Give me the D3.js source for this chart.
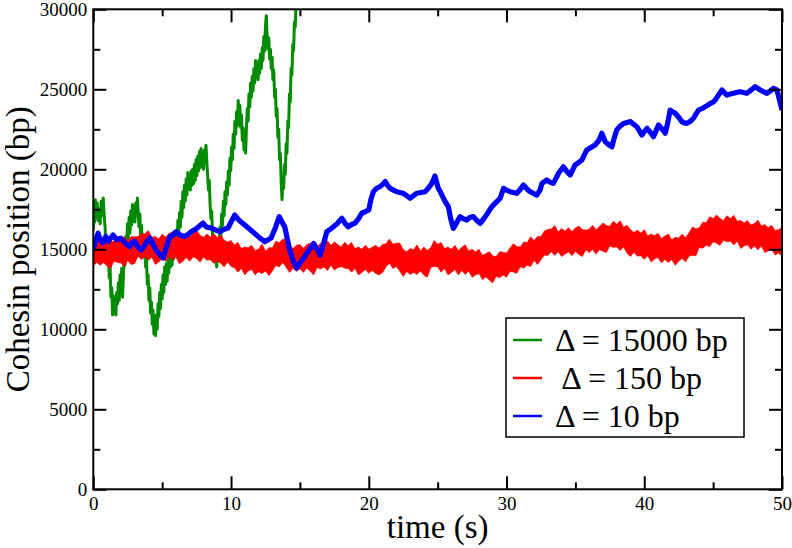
<!DOCTYPE html>
<html>
<head>
<meta charset="utf-8">
<script src="https://cdn.jsdelivr.net/npm/d3@7"></script>
<style>
  body { margin: 0; background: #fff; }
</style>
</head>
<body>
<script>
// axis ticks
const xMajor = [0, 10, 20, 30, 40, 50];
const xMinor = [5, 15, 25, 35, 45];
const yMajor = [0, 5000, 10000, 15000, 20000, 25000, 30000];
const yMinor = [2500, 7500, 12500, 17500, 22500, 27500];

const legendLabels = ["\u0394 = 15000 bp", " \u0394 = 150 bp", "\u0394 = 10 bp"];
const colors = ["#008b00", "#ff0000", "#0000ff"];
const FONT = "'Liberation Serif', 'Times New Roman', serif";

// Δ = 15000 bp, [time (s), position (bp)]
const green = [
[0.00,16200],[0.05,17700],[0.10,16700],[0.15,18100],[0.22,17000],[0.28,17900],[0.35,16800],[0.42,17500],[0.50,16600],[0.57,18000],[0.64,17100],[0.72,18200],[0.80,17000],[0.86,16300],[0.92,15000],[0.98,15700],[1.04,14100],[1.10,14700],[1.16,13200],[1.22,13900],[1.28,12000],[1.34,12600],[1.40,10900],[1.46,12100],[1.52,11000],[1.58,11700],[1.64,10900],[1.70,12300],[1.76,11600],[1.82,12900],[1.88,11800],[1.94,13400],[2.00,12300],[2.06,13800],[2.12,12000],[2.18,13200],[2.24,14600],[2.30,14000],[2.36,15800],[2.42,15000],[2.48,16600],[2.54,15600],[2.60,17000],[2.66,16000],[2.72,17400],[2.78,16500],[2.84,17800],[2.90,16900],[2.96,17600],[3.02,16700],[3.08,17900],[3.14,17100],[3.20,18200],[3.26,17300],[3.32,16400],[3.38,17200],[3.44,15800],[3.50,16500],[3.56,15000],[3.62,15700],[3.68,14500],[3.74,15100],[3.80,13900],[3.86,14500],[3.92,12800],[3.98,13400],[4.04,11800],[4.10,12600],[4.16,11000],[4.22,11700],[4.28,10300],[4.34,11200],[4.40,9700],[4.46,10500],[4.52,9600],[4.58,10900],[4.64,10000],[4.70,11600],[4.76,10800],[4.82,12300],[4.88,11300],[4.94,12800],[5.00,11900],[5.06,13400],[5.12,12300],[5.18,13900],[5.24,12800],[5.30,14100],[5.36,13000],[5.42,14300],[5.48,13500],[5.54,14800],[5.60,13900],[5.66,15100],[5.72,14000],[5.78,15300],[5.84,14400],[5.90,15600],[5.96,14700],[6.02,16100],[6.08,15200],[6.14,16800],[6.20,15900],[6.26,17300],[6.32,16400],[6.38,18000],[6.44,17000],[6.50,18600],[6.56,17600],[6.62,19000],[6.68,18000],[6.74,19400],[6.80,18400],[6.86,19800],[6.92,18800],[6.98,19600],[7.04,18700],[7.10,19900],[7.16,19000],[7.22,20000],[7.28,19100],[7.34,20300],[7.40,19300],[7.46,20600],[7.52,19600],[7.58,20800],[7.64,19900],[7.70,21100],[7.76,20100],[7.82,21300],[7.88,20300],[7.94,21000],[8.00,20000],[8.06,21200],[8.12,20400],[8.18,21500],[8.24,20500],[8.30,19600],[8.36,18700],[8.42,19300],[8.48,17800],[8.54,16900],[8.60,17400],[8.66,15800],[8.72,15100],[8.78,15700],[8.84,14300],[8.90,14900],[8.96,13900],[9.02,14800],[9.08,15600],[9.14,14900],[9.20,16400],[9.26,15700],[9.32,17200],[9.38,16500],[9.44,18000],[9.50,17100],[9.56,18600],[9.62,17800],[9.68,19200],[9.74,18400],[9.80,19900],[9.86,19000],[9.92,20700],[9.98,19900],[10.04,21400],[10.10,20600],[10.16,22200],[10.22,21300],[10.28,23000],[10.34,22200],[10.40,23600],[10.46,22700],[10.52,24300],[10.58,23300],[10.64,24000],[10.70,22600],[10.76,23400],[10.82,21800],[10.88,22600],[10.94,21200],[11.00,22300],[11.06,21000],[11.12,22700],[11.18,23800],[11.24,23000],[11.30,24700],[11.36,23900],[11.42,25400],[11.48,24500],[11.54,25800],[11.60,24900],[11.66,26300],[11.72,25400],[11.78,26800],[11.84,25800],[11.90,26500],[11.96,25600],[12.02,26800],[12.08,26000],[12.14,27200],[12.20,26300],[12.26,27600],[12.32,26800],[12.38,28300],[12.44,27400],[12.50,29000],[12.56,29600],[12.62,28300],[12.68,27500],[12.74,28200],[12.80,26900],[12.86,27500],[12.92,26300],[12.98,27000],[13.04,25600],[13.10,26200],[13.16,24500],[13.22,25000],[13.28,23300],[13.34,23800],[13.40,22000],[13.46,22500],[13.52,20600],[13.58,21000],[13.64,19200],[13.70,18100],[13.76,19400],[13.82,18800],[13.88,20300],[13.94,19700],[14.00,21600],[14.06,21000],[14.12,23000],[14.18,22600],[14.24,24700],[14.30,24200],[14.36,26300],[14.42,25900],[14.48,27800],[14.54,27400],[14.60,29200],[14.66,28900],[14.72,30300],[14.80,31000]
];

// Δ = 150 bp, noisy band: upper and lower edge every 0.25 s
const redTime = d3.range(201).map(i => i * 0.25);
const redHigh = [
15400,15700,15520,15630,15700,15480,15500,15800,15570,15780,15550,15800,
15780,15800,16000,15970,16180,15750,15800,15650,15950,15770,15980,16100,
15750,15850,15700,16000,15770,15980,16200,15880,15750,15950,15770,15980,
15730,15900,15580,15450,15550,15270,15430,15050,15150,15100,15250,14920,
15020,15330,14900,15100,15100,15500,15420,15630,15650,15230,15050,15250,
15300,15070,15280,15400,15080,15100,15400,15320,15530,15250,15450,15300,
15150,15450,15220,15430,15050,15150,15000,15250,15020,15130,15250,15080,
15300,15350,15650,15320,15380,15400,14980,14850,15050,14970,15280,14900,
15150,14930,15100,15550,15320,15430,15050,15150,15000,15250,14920,15130,
15280,14900,15000,14850,15000,14620,14730,14850,14580,14550,14850,14820,
14770,15080,15350,15180,15150,15450,15420,15780,15550,15800,15800,16150,
16250,16270,16480,16100,16300,16150,16350,16120,16330,16450,16230,16200,
16250,16500,16220,16430,16650,16480,16450,16750,16570,16780,16400,16500,
16230,16050,16200,16020,16230,15850,15950,15850,16000,15670,15830,15950,
15600,15750,15700,15950,15720,16030,16400,16280,16350,16700,16670,17030,
16930,17150,16930,16800,17100,16920,17130,16750,16800,16650,16800,16520,
16620,16830,16450,16550,16350,16500,16170,16230,16350
];
const redLow = [
13950,14180,14000,14170,13930,13800,14260,14170,14150,13920,14300,14050,
14100,14560,14370,14550,14320,14500,14050,14200,14430,14250,14520,14330,
14500,14100,14250,14480,14250,14520,14430,14200,14510,14320,14350,14120,
14270,14130,13900,14210,13920,13850,13570,13800,13400,13650,13730,13400,
13600,13470,13650,13350,13650,13980,13900,14170,13880,13550,13810,13620,
13780,13550,13820,13630,13400,13860,13770,13900,13670,14000,13700,13850,
13910,13820,13800,13570,13800,13400,13550,13730,13500,13670,13480,13400,
13550,13900,14130,13800,13920,13630,13300,13610,13420,13550,13420,13650,
13380,13250,13860,13920,13900,13570,13800,13400,13550,13730,13400,13670,
13420,13650,13250,13400,13480,13100,13270,13080,12900,13310,13220,13400,
13250,13620,13580,13500,13910,13820,14000,13920,14300,14050,14350,14630,
14620,14850,14620,14850,14550,14700,14830,14600,14870,14680,14550,14960,
14800,14980,14700,14970,14880,14800,15210,15120,15150,14920,15150,14750,
14550,14810,14570,14600,14370,14600,14200,14400,14480,14150,14370,14180,
14350,14000,14250,14430,14200,14570,14630,14600,15110,15070,15250,15170,
15470,15380,15250,15560,15470,15500,15270,15500,15050,15200,15280,15000,
15200,14970,15200,14800,14900,14980,14650,14770,14580
];

// Δ = 10 bp
const blue = [
[0.0,14950],[0.15,15500],[0.35,16000],[0.5,15600],[0.7,15400],[0.9,15800],[1.1,15500],[1.43,15900],[1.7,15600],[2.0,15700],[2.3,15400],[2.64,15160],[2.8,15400],[3.0,15500],[3.2,15200],[3.46,14950],[3.7,15200],[3.9,15500],[4.1,15700],[4.35,15300],[4.56,14950],[4.8,14700],[5.06,14450],[5.3,15100],[5.55,15790],[5.8,15900],[6.0,16100],[6.3,15900],[6.63,15790],[6.9,15950],[7.1,16100],[7.5,16300],[7.97,16640],[8.2,16400],[8.55,16330],[8.9,16200],[9.18,16100],[9.5,16250],[9.78,16330],[10.0,16700],[10.27,17140],[10.6,16800],[11.0,16520],[11.3,16300],[11.7,16000],[12.1,15700],[12.45,15480],[12.7,15600],[12.9,15700],[13.2,16300],[13.5,17040],[13.7,16700],[13.9,16400],[14.1,15600],[14.26,14950],[14.5,14300],[14.75,13830],[15.0,14140],[15.35,14540],[15.5,14770],[15.8,15100],[16.0,15370],[16.25,15000],[16.46,14640],[16.7,15300],[16.95,16100],[17.2,16250],[17.43,16410],[17.7,16600],[18.04,16940],[18.3,16600],[18.5,16410],[18.75,16550],[19.0,16640],[19.25,16900],[19.5,17270],[19.75,17350],[20.0,17460],[20.15,18100],[20.33,18600],[20.55,18800],[20.8,18910],[21.0,19050],[21.2,19230],[21.35,19000],[21.55,18810],[21.8,18700],[22.03,18600],[22.25,18550],[22.5,18500],[22.75,18350],[23.0,18190],[23.25,18350],[23.48,18500],[23.8,18550],[24.09,18600],[24.35,18850],[24.58,19120],[24.8,19580],[25.05,18810],[25.25,18500],[25.42,18190],[25.6,17900],[25.78,17660],[25.95,16900],[26.14,16310],[26.4,16700],[26.63,17040],[26.9,16900],[27.12,16830],[27.35,17000],[27.6,17040],[27.85,16800],[28.08,16620],[28.25,16800],[28.45,17040],[28.7,17350],[28.93,17660],[29.2,17900],[29.54,18190],[29.78,18810],[30.0,18700],[30.26,18600],[30.5,18550],[30.75,18500],[31.0,18750],[31.23,19020],[31.45,18800],[31.71,18600],[31.95,18500],[32.2,18390],[32.44,18710],[32.57,19120],[32.93,19330],[33.15,19200],[33.4,19120],[33.6,19450],[33.77,19750],[34.13,20160],[34.35,19900],[34.62,19640],[34.8,19950],[34.98,20270],[35.2,20400],[35.47,20580],[35.65,20900],[35.83,21210],[36.1,21350],[36.43,21520],[36.7,21800],[36.92,22250],[37.16,21730],[37.4,21550],[37.65,21410],[37.8,21900],[38.0,22460],[38.25,22700],[38.5,22870],[38.75,22930],[39.0,22980],[39.25,22800],[39.46,22660],[39.65,22400],[39.83,22140],[40.0,22350],[40.2,22560],[40.45,22300],[40.67,22040],[40.85,22400],[41.03,22770],[41.3,22500],[41.52,22250],[41.7,22900],[41.88,23700],[42.05,23600],[42.25,23500],[42.5,23250],[42.73,22980],[42.9,22900],[43.1,22870],[43.35,23000],[43.57,23190],[43.75,23450],[43.94,23700],[44.2,23800],[44.42,23910],[44.6,24000],[44.79,24120],[45.0,24200],[45.15,24330],[45.4,24650],[45.64,24960],[45.8,24800],[46.0,24640],[46.25,24700],[46.48,24750],[46.7,24800],[46.96,24850],[47.2,24800],[47.45,24750],[47.75,24950],[48.05,25160],[48.25,25050],[48.42,24960],[48.65,24850],[48.9,24750],[49.15,24900],[49.38,25060],[49.63,24960],[49.8,24400],[50.0,23700]
];

const W = 792, H = 548;
const margin = { top: 9.3, right: 10, bottom: 58.7, left: 93.3 };
const width = W - margin.left - margin.right,
      height = H - margin.top - margin.bottom;

const svg = d3.select("body").append("svg")
    .attr("width", W)
    .attr("height", H);

const g = svg.append("g")
    .attr("transform", `translate(${margin.left},${margin.top})`);

const x = d3.scaleLinear().domain([0, 50]).range([0, width]);
const y = d3.scaleLinear().domain([0, 30000]).range([height, 0]);

g.append("clipPath").attr("id", "plotclip")
  .append("rect").attr("width", width).attr("height", height);

const plot = g.append("g").attr("clip-path", "url(#plotclip)");

// green trace
plot.append("path")
    .datum(green)
    .attr("fill", "none")
    .attr("stroke", colors[0])
    .attr("stroke-width", 3)
    .attr("stroke-linejoin", "round")
    .attr("d", d3.line().x(d => x(d[0])).y(d => y(d[1])));

// red band
plot.append("path")
    .datum(redTime.map((t, i) => [t, redLow[i], redHigh[i]]))
    .attr("fill", colors[1])
    .attr("stroke", colors[1])
    .attr("stroke-width", 0.6)
    .attr("d", d3.area().x(d => x(d[0])).y0(d => y(d[1])).y1(d => y(d[2])));

// blue trace
plot.append("path")
    .datum(blue)
    .attr("fill", "none")
    .attr("stroke", colors[2])
    .attr("stroke-width", 5.2)
    .attr("stroke-linejoin", "round")
    .attr("d", d3.line().x(d => x(d[0])).y(d => y(d[1])));

// serif text everywhere
function serif(sel, size) {
  sel.style("font-family", FONT, "important")
     .style("font-size", size + "px", "important")
     .style("fill", "#000", "important");
}

// axes, ticks pointing inward on all four sides
function styleAxis(sel) {
  sel.attr("font-family", null).attr("font-size", null);
  sel.select(".domain").remove();
  sel.selectAll(".tick line").attr("stroke", "#000").attr("stroke-width", 2);
  sel.selectAll(".tick text").call(serif, 19);
}

g.append("g").attr("transform", `translate(0,${height})`)
  .call(d3.axisBottom(x).tickValues(xMajor).tickSize(-13).tickPadding(7).tickFormat(d3.format("d")))
  .call(styleAxis);
g.append("g").attr("transform", `translate(0,${height})`)
  .call(d3.axisBottom(x).tickValues(xMinor).tickSize(-7).tickFormat(""))
  .call(styleAxis);
g.append("g")
  .call(d3.axisTop(x).tickValues(xMajor).tickSize(-13).tickFormat(""))
  .call(styleAxis);
g.append("g")
  .call(d3.axisTop(x).tickValues(xMinor).tickSize(-7).tickFormat(""))
  .call(styleAxis);

g.append("g")
  .call(d3.axisLeft(y).tickValues(yMajor).tickSize(-13).tickPadding(6).tickFormat(d3.format("d")))
  .call(styleAxis);
g.append("g")
  .call(d3.axisLeft(y).tickValues(yMinor).tickSize(-7).tickFormat(""))
  .call(styleAxis);
g.append("g").attr("transform", `translate(${width},0)`)
  .call(d3.axisRight(y).tickValues(yMajor).tickSize(-13).tickFormat(""))
  .call(styleAxis);
g.append("g").attr("transform", `translate(${width},0)`)
  .call(d3.axisRight(y).tickValues(yMinor).tickSize(-7).tickFormat(""))
  .call(styleAxis);

// frame
g.append("rect")
    .attr("width", width).attr("height", height)
    .attr("fill", "none").attr("stroke", "#000").attr("stroke-width", 2);

// axis titles
svg.append("text")
    .attr("x", margin.left + width / 2).attr("y", 538)
    .attr("text-anchor", "middle")
    .call(serif, 33)
    .text("time (s)");

svg.append("text")
    .attr("transform", `translate(29,${margin.top + height / 2}) rotate(-90)`)
    .attr("text-anchor", "middle")
    .call(serif, 33)
    .text("Cohesin position (bp)");

// legend
const legend = svg.append("g").attr("transform", "translate(506,318)");
legend.append("rect")
    .attr("width", 238).attr("height", 119)
    .attr("fill", "#fff").attr("stroke", "#000").attr("stroke-width", 1.5);

legendLabels.forEach((label, i) => {
  const ly = 22 + i * 38;
  legend.append("line")
      .attr("x1", 7).attr("x2", 36).attr("y1", ly).attr("y2", ly)
      .attr("stroke", colors[i]).attr("stroke-width", 2.5);
  legend.append("text")
      .attr("x", 49).attr("y", ly + 11)
      .attr("xml:space", "preserve")
      .style("white-space", "pre")
      .call(serif, 32)
      .text(label);
});
</script>
</body>
</html>
